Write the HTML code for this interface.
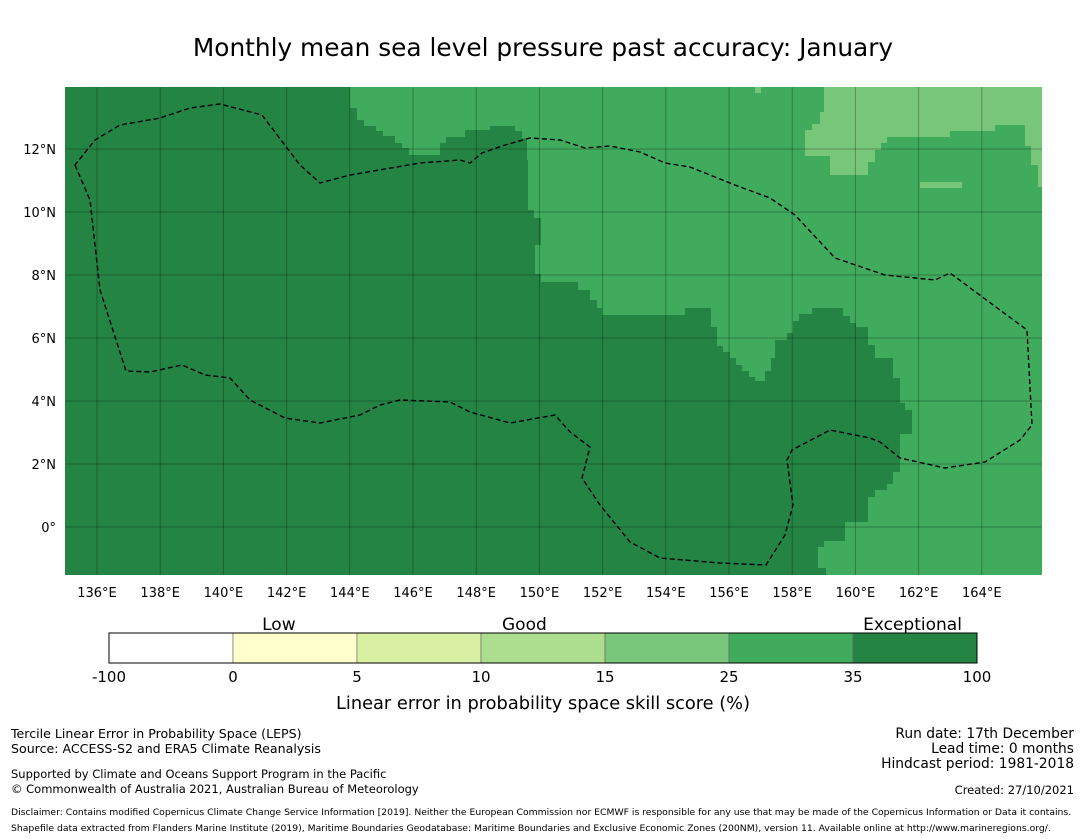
<!DOCTYPE html>
<html><head><meta charset="utf-8"><style>
body{margin:0;background:#fff;width:1085px;height:839px;overflow:hidden;font-family:"Liberation Sans","DejaVu Sans",sans-serif}
svg{position:absolute;left:0;top:0}
</style></head><body>
<svg id="s" width="1085" height="839">
<text x="543" y="56" text-anchor="middle" font-size="24.8" fill="#000" font-family="DejaVu Sans, Liberation Sans, sans-serif">Monthly mean sea level pressure past accuracy: January</text>
<g id="map"></g>
<g id="cb"></g>
<g font-family="DejaVu Sans, Liberation Sans, sans-serif" font-size="12.6" fill="#000">
<text x="11" y="738">Tercile Linear Error in Probability Space (LEPS)</text>
<text x="11" y="753">Source: ACCESS-S2 and ERA5 Climate Reanalysis</text>
<text x="11" y="778" font-size="11.5">Supported by Climate and Oceans Support Program in the Pacific</text>
<text x="11" y="793" font-size="11.5">© Commonwealth of Australia 2021, Australian Bureau of Meteorology</text>
<text x="1074" y="738" text-anchor="end" font-size="13.8">Run date: 17th December</text>
<text x="1074" y="753" text-anchor="end" font-size="13.8">Lead time: 0 months</text>
<text x="1074" y="768" text-anchor="end" font-size="13.8">Hindcast period: 1981-2018</text>
<text x="1074" y="794" text-anchor="end" font-size="11.5">Created: 27/10/2021</text>
<text x="11" y="815" font-size="9.25">Disclaimer: Contains modified Copernicus Climate Change Service Information [2019]. Neither the European Commission nor ECMWF is responsible for any use that may be made of the Copernicus Information or Data it contains.</text>
<text x="11" y="831" font-size="9.25">Shapefile data extracted from Flanders Marine Institute (2019), Maritime Boundaries Geodatabase: Maritime Boundaries and Exclusive Economic Zones (200NM), version 11. Available online at http://www.marineregions.org/.</text>
</g>
</svg>
<script>
const lonTicks=[136,138,140,142,144,146,148,150,152,154,156,158,160,162,164];
const latTicks=[0,2,4,6,8,10,12];
const cbBounds=["-100","0","5","10","15","25","35","100"];
const cbColors=["#ffffff","#ffffcc","#d9f0a3","#addd8e","#78c679","#41ab5d","#238443"];
const cbCategories=["Low","Good","Exceptional"];
const cbCategoryPos=[1.37,3.35,6.48];
const X0=65,X1=1042,Y0=87,Y1=575;
const px=l=>97+(l-136)*31.6, py=a=>527-a*31.5;
const ilon=x=>136+(x-97)/31.6, ilat=y=>(527-y)/31.5;
const mediumRegion=[[350,87],[350,108],[357,108],[357,120],[364,120],[364,126],[376,126],[376,131],[383,131],[383,136],[395,136],[395,143],[402,143],[402,148],[409,148],[409,155],[440,155],[440,143],[446,143],[446,137],[465,137],[465,130],[490,130],[490,126],[515,126],[515,131],[522,131],[522,138],[527,138],[527,160],[528,160],[528,210],[534,210],[534,218],[541,218],[541,245],[535,245],[535,274],[541,274],[541,282],[578,282],[578,290],[590,290],[590,300],[597,300],[597,308],[602,308],[602,315],[685,315],[685,308],[711,308],[711,327],[717,327],[717,346],[723,346],[723,352],[730,352],[730,358],[736,358],[736,365],[742,365],[742,371],[749,371],[749,377],[755,377],[755,381],[765,381],[765,371],[771,371],[771,358],[775,358],[775,340],[787,340],[787,333],[793,333],[793,321],[799,321],[799,314],[812,314],[812,308],[843,308],[843,316],[850,316],[850,323],[856,323],[856,327],[868,327],[868,345],[875,345],[875,358],[893,358],[893,378],[900,378],[900,403],[905,403],[905,410],[912,410],[912,434],[900,434],[900,472],[893,472],[893,484],[887,484],[887,490],[875,490],[875,497],[868,497],[868,522],[845,522],[845,541],[824,541],[824,547],[818,547],[818,568],[826,568],[826,575],[1042,575],[1042,87]];
const lightRegion=[[824,87],[824,112],[820,112],[820,124],[812,124],[812,130],[805,130],[805,156],[830,156],[830,175],[868,175],[868,162],[875,162],[875,150],[881,150],[881,143],[887,143],[887,137],[950,137],[950,131],[995,131],[995,125],[1025,125],[1025,146],[1031,146],[1031,165],[1038,165],[1038,187],[1042,187],[1042,87]];
const lightSpots=[[[920,182],[962,182],[962,188],[920,188]],[[755,87],[761,87],[761,93],[755,93]]];
const eez=[[75,165],[90,200],[100,290],[126,371],[150,372],[182,365],[205,375],[230,378],[250,400],[285,418],[320,423],[360,415],[380,405],[400,400],[450,402],[470,412],[510,423],[555,415],[570,432],[590,447],[582,478],[600,505],[630,542],[660,558],[720,563],[766,565],[785,535],[793,505],[787,460],[792,450],[830,430],[870,438],[880,442],[900,458],[945,468],[985,462],[1020,440],[1032,425],[1027,330],[950,273],[935,280],[885,275],[835,258],[795,215],[770,198],[735,185],[690,167],[665,163],[640,152],[610,146],[585,148],[560,140],[530,138],[505,145],[482,153],[470,163],[460,160],[420,163],[350,175],[320,183],[300,165],[262,115],[220,104],[190,108],[160,118],[120,125],[95,140],[75,165]].map(p=>[ilon(p[0]),ilat(p[1])]);
const NS="http://www.w3.org/2000/svg";
function mk(t,a,p){const e=document.createElementNS(NS,t);for(const k in a)e.setAttribute(k,a[k]);p.appendChild(e);return e;}
const svg=document.getElementById('s');
const map=document.getElementById('map');
const clip=mk('clipPath',{id:'mc'},map);mk('rect',{x:X0,y:Y0,width:X1-X0,height:Y1-Y0},clip);
const g=mk('g',{'clip-path':'url(#mc)'},map);
let r=mk('rect',{x:X0,y:Y0,width:X1-X0,height:Y1-Y0,fill:'#238443'},g);


const pts=a=>a.map(p=>p.join(',')).join(' ');
let m=mk('polygon',{points:pts(mediumRegion),fill:'#41ab5d'},g);


let l=mk('polygon',{points:pts(lightRegion),fill:'#78c679'},g);


lightSpots.forEach(s=>{const e=mk('polygon',{points:pts(s),fill:'#78c679'},g);

});
lonTicks.forEach(v=>{const x=px(v);const ln=mk('line',{x1:x,x2:x,y1:Y0,y2:Y1,stroke:'rgba(0,0,0,0.28)','stroke-width':1},g);


const t=mk('text',{x:x,y:597,'text-anchor':'middle','font-size':13,'font-family':'DejaVu Sans, Liberation Sans, sans-serif'},svg);t.textContent=v+'°E';

});
latTicks.forEach(v=>{const y=py(v);const ln=mk('line',{x1:X0,x2:X1,y1:y,y2:y,stroke:'rgba(0,0,0,0.28)','stroke-width':1},g);


const t=mk('text',{x:56,y:y+5,'text-anchor':'end','font-size':13,'font-family':'DejaVu Sans, Liberation Sans, sans-serif'},svg);t.textContent=v===0?'0°':v+'°N';

});
const ez=mk('polygon',{points:eez.map(p=>px(p[0])+','+py(p[1])).join(' '),fill:'none',stroke:'#000','stroke-width':1.4,'stroke-dasharray':'5,3'},g);


const cb=document.getElementById('cb');const cx0=109,cw=124,cy=633,ch=30;
cbColors.forEach((c,i)=>{const e=mk('rect',{x:cx0+i*cw,y:cy,width:cw,height:ch,fill:c,stroke:'#666','stroke-width':0.6},cb);

});
mk('rect',{x:cx0,y:cy,width:cw*7,height:ch,fill:'none',stroke:'#000','stroke-width':1},cb);
cbBounds.forEach((b,i)=>{const t=mk('text',{x:cx0+i*cw,y:682,'text-anchor':'middle','font-size':15,'font-family':'DejaVu Sans, Liberation Sans, sans-serif'},cb);t.textContent=b;

});
cbCategories.forEach((c,i)=>{const t=mk('text',{x:cx0+cbCategoryPos[i]*cw,y:630,'text-anchor':'middle','font-size':17,'font-family':'DejaVu Sans, Liberation Sans, sans-serif'},cb);t.textContent=c;

});
const ct=mk('text',{x:543,y:709,'text-anchor':'middle','font-size':17.8,'font-family':'DejaVu Sans, Liberation Sans, sans-serif'},cb);ct.textContent='Linear error in probability space skill score (%)';


</script>
</body></html>
